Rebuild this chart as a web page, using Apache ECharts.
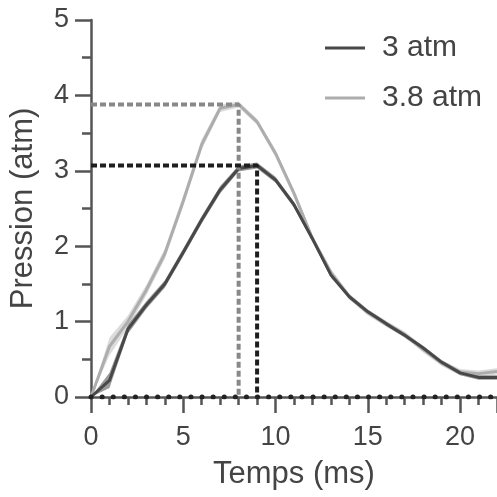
<!DOCTYPE html>
<html><head><meta charset="utf-8">
<script src="https://cdn.jsdelivr.net/npm/echarts@6/dist/echarts.min.js"></script>
<style>html,body{margin:0;padding:0;background:#fff}#c{width:497px;height:497px}</style>
</head><body><div id="c"></div>
<script>
const times = [0,1,2,3,4,5,6,7,8,9,10,11,12,13,14,15,16,17,18,19,20,21,22];
const p3 = [0,0.22,0.9,1.22,1.5,1.92,2.35,2.75,3.03,3.07,2.88,2.55,2.1,1.62,1.33,1.13,0.97,0.82,0.65,0.46,0.32,0.26,0.26];
const sem3 = [0,0.1,0.06,0.05,0.05,0.05,0.05,0.05,0.04,0.04,0.04,0.04,0.04,0.04,0.03,0.03,0.03,0.03,0.03,0.03,0.03,0.03,0.03];
const p38 = [0,0.67,1.0,1.42,1.9,2.6,3.35,3.83,3.88,3.65,3.23,2.7,2.1,1.65,1.33,1.12,0.97,0.83,0.63,0.45,0.33,0.31,0.34];
const sem38 = [0,0.12,0.08,0.07,0.07,0.07,0.07,0.05,0.04,0.04,0.05,0.05,0.05,0.05,0.04,0.04,0.04,0.04,0.04,0.04,0.04,0.04,0.04];
const peak3 = {x: 9, y: 3.07};
const peak38 = {x: 8, y: 3.88};
const xTicks = [0,5,10,15,20];
const seriesNames = ['3 atm','3.8 atm'];

const FONT = '"Liberation Sans", Arial, sans-serif';
const pair = (xs, ys) => xs.map((x,i)=>[x, ys[i]]);

function band(v, s, color, z){
  return {
    type:'custom', silent:true, z:z, data:[0],
    renderItem:function(params, api){
      const up = times.map((t,i)=>api.coord([t, v[i]+s[i]]));
      const lo = times.map((t,i)=>api.coord([t, Math.max(0, v[i]-s[i])])).reverse();
      return {type:'polygon', shape:{points:up.concat(lo)}, style:{fill:color}};
    }
  };
}

const chart = echarts.init(document.getElementById('c'));
chart.setOption({
  animation:false,
  grid:{left:90, right:-4, top:20, bottom:100, containLabel:false},
  legend:{
    data:seriesNames, orient:'vertical', left:320, top:28, itemGap:20,
    itemWidth:40, itemHeight:3, icon:'rect',
    textStyle:{fontFamily:FONT, fontSize:30, color:'#444', padding:[0,0,0,12]}
  },
  xAxis:{
    type:'value', min:0, max:22, interval:5,
    name:'Temps (ms)', nameLocation:'middle', nameGap:62,
    nameTextStyle:{fontFamily:FONT, fontSize:31, color:'#444'},
    axisLine:{show:true, lineStyle:{color:'#555', width:2.5}},
    axisTick:{show:true, length:16, lineStyle:{color:'#555', width:2.5}},
    minorTick:{show:true, splitNumber:5, length:8, lineStyle:{color:'#555', width:2.5}},
    axisLabel:{fontFamily:FONT, fontSize:27, color:'#444', margin:27, customValues:xTicks},
    splitLine:{show:false}
  },
  yAxis:{
    type:'value', min:0, max:5, interval:1,
    name:'Pression (atm)', nameLocation:'middle', nameGap:52,
    nameTextStyle:{fontFamily:FONT, fontSize:31, color:'#444'},
    axisLine:{show:true, lineStyle:{color:'#555', width:2.5}},
    axisTick:{show:true, length:16, lineStyle:{color:'#555', width:2.5}},
    minorTick:{show:true, splitNumber:2, length:9, lineStyle:{color:'#555', width:2.5}},
    axisLabel:{fontFamily:FONT, fontSize:27, color:'#444', margin:22},
    splitLine:{show:false}
  },
  series:[
    band(p38, sem38, '#dcdcdc', 1),
    band(p3, sem3, '#999999', 2),
    {name:seriesNames[1], type:'line', data:pair(times,p38), symbol:'none', color:'#adadad', lineStyle:{color:'#adadad', width:3}, z:3},
    {name:seriesNames[0], type:'line', data:pair(times,p3), symbol:'none', color:'#484848', lineStyle:{color:'#484848', width:3}, z:4},
    {type:'line', data:[[0,peak38.y],[peak38.x,peak38.y],[peak38.x,0]], symbol:'none', z:5,
     lineStyle:{color:'#888', width:4, type:[6,3]}},
    {type:'line', data:[[0,peak3.y],[peak3.x,peak3.y],[peak3.x,0]], symbol:'none', z:6,
     lineStyle:{color:'#1e1e1e', width:4, type:[6,3]}},
    {type:'line', data:[[0,0],[22,0]], symbol:'none', z:7,
     lineStyle:{color:'#222', width:5, type:[0.1,11], cap:'round'}}
  ]
});
</script></body></html>
